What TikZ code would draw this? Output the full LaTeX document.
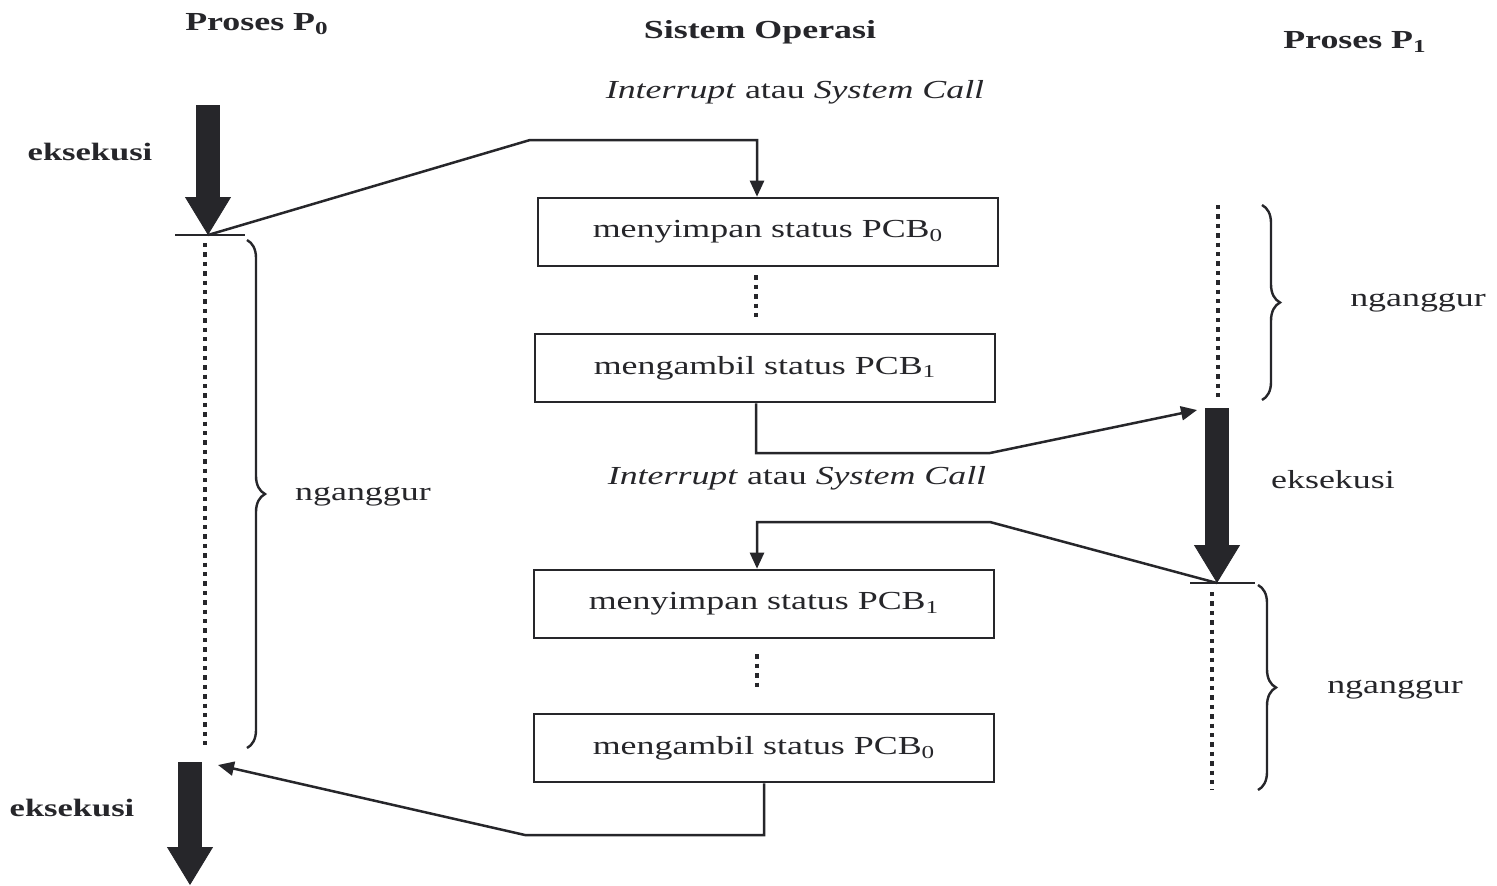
\documentclass[tikz,border=0pt]{standalone}
\usepackage{fontspec}
\setmainfont{Liberation Serif}[FakeStretch=1.38]
\usetikzlibrary{arrows.meta,decorations.pathreplacing,calc}
\definecolor{ink}{RGB}{38,38,42}
\begin{document}
\begin{tikzpicture}[x=0.5pt,y=-0.5pt,
  every node/.style={text=ink,inner sep=0pt},
  hdr/.style={font=\fontsize{13}{15}\selectfont\bfseries},
  lbl/.style={font=\fontsize{13}{15}\selectfont},
  blbl/.style={font=\fontsize{12.5}{15}\selectfont\bfseries},
  box/.style={draw=ink,line width=1.3pt,minimum width=230pt,minimum height=34pt,font=\fontsize{13}{15}\selectfont},
  thin/.style={draw=ink,line width=1.25pt},
  thinarrow/.style={thin,-{Triangle[length=8pt,width=7pt]}},
  thick/.style={draw=ink,line width=12pt,-{Triangle[length=19pt,width=23pt,line width=0.4pt]}},
  dots/.style={draw=ink,line width=2.4pt,dash pattern=on 2.2pt off 2.5pt},
  brc/.style={draw=ink,line width=1.2pt,decorate,decoration={brace,amplitude=9pt}}
]
\useasboundingbox[fill=white] (0,0) rectangle (1497,885);

% headers
\node[hdr] (hp0) at (257,24) {Proses P\textsubscript{0}};
\node[hdr] (hso) at (760,32) {Sistem Operasi};
\node[hdr] (hp1) at (1355,42) {Proses P\textsubscript{1}};
\node[lbl] (ic1) at (795,92) {\textit{Interrupt} atau \textit{System Call}};
\node[lbl] (ic2) at (797,478) {\textit{Interrupt} atau \textit{System Call}};

% boxes
\node[box] (b1) at (768,232) {menyimpan status PCB\textsubscript{0}};
\node[box] (b2) at (765,368) {mengambil status PCB\textsubscript{1}};
\node[box] (b3) at (764,604) {menyimpan status PCB\textsubscript{1}};
\node[box] (b4) at (764,748) {mengambil status PCB\textsubscript{0}};

% labels
\node[blbl] (e1) at (90,152) {eksekusi};
\node[lbl]  (e2) at (1333,480) {eksekusi};
\node[blbl] (e3) at (72,808) {eksekusi};
\node[lbl] (n1) at (363,497) {nganggur};
\node[lbl] (n2) at (1418,303) {nganggur};
\node[lbl] (n3) at (1395,690) {nganggur};

% coordinates
\coordinate (p0a) at (208,105);
\coordinate (p0b) at (208,235);
\coordinate (p0c) at (190,762);
\coordinate (p0d) at (190,885);
\coordinate (p1a) at (1217,408);
\coordinate (p1b) at (1217,583);
\coordinate (k1) at (530,140);
\coordinate (k2) at (990,453);
\coordinate (k3) at (1197,410);
\coordinate (k4) at (990,522);
\coordinate (k5) at (525,835);
\coordinate (k6) at (218,765);

% process P0
\draw[thick] (p0a) -- (p0b);
\draw[thin] (175,235) -- (245,235);
\draw[dots] (205,243) -- (205,745);
\draw[brc] (247,240) -- (247,748);
\draw[thick] (p0c) -- (p0d);

% process P1
\draw[dots] (1218,205) -- (1218,402);
\draw[brc] (1262,205) -- (1262,400);
\draw[thick] (p1a) -- (p1b);
\draw[thin] (1190,583) -- (1255,583);
\draw[dots] (1212,592) -- (1212,790);
\draw[brc] (1258,585) -- (1258,790);

% OS dotted links
\draw[dots] (b1.south) ++(-12,8) -- ++(0,45);
\draw[dots] (b3.south) ++(-7,15) -- ++(0,37);

% connectors
\draw[thinarrow] (p0b) -- (k1) -| ([xshift=-5.5pt]b1.north);
\draw[thinarrow] ([xshift=-4.5pt]b2.south) |- (k2) -- (k3);
\draw[thinarrow] (p1b) -- (k4) -| ([xshift=-3.5pt]b3.north);
\draw[thinarrow] (b4.south) |- (k5) -- (k6);
\end{tikzpicture}
\end{document}
